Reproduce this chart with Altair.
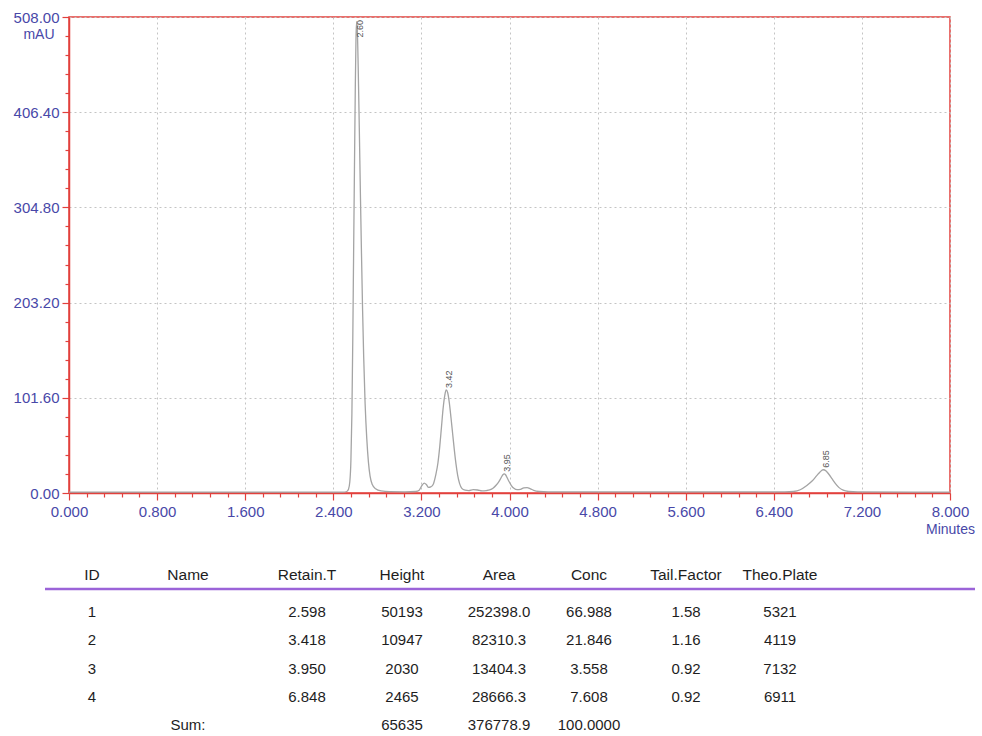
import altair as alt
import pandas as pd

# ---------------- chromatogram trace ----------------
time_min = [
    0.00, 2.49, 2.522, 2.538, 2.55, 2.56, 2.569, 2.577, 2.584, 2.592, 2.600, 2.606, 2.612,
    2.618, 2.626, 2.636, 2.646, 2.656, 2.666, 2.676, 2.689, 2.704, 2.719, 2.734, 2.754,
    2.784, 2.834, 2.91, 3.05, 3.15, 3.18, 3.20, 3.225, 3.245, 3.265, 3.285, 3.31, 3.33,
    3.35, 3.367, 3.382, 3.397, 3.412, 3.425, 3.439, 3.454, 3.469, 3.484, 3.499, 3.514,
    3.529, 3.547, 3.567, 3.597, 3.63, 3.67, 3.71, 3.75, 3.79, 3.82, 3.85, 3.88, 3.905,
    3.925, 3.94, 3.952, 3.964, 3.98, 3.997, 4.017, 4.04, 4.07, 4.10, 4.13, 4.16, 4.19,
    4.22, 4.27, 4.35, 6.50, 6.58, 6.64, 6.70, 6.75, 6.79, 6.82, 6.848, 6.875, 6.90,
    6.93, 6.96, 6.99, 7.03, 7.08, 7.16, 8.00,
]
absorbance_mau = [
    1.0, 1.0, 1.6, 4, 12, 35, 85, 165, 250, 345, 435, 485, 503,
    495, 455, 390, 320, 255, 195, 145, 95, 58, 33, 18, 9,
    4.5, 2.2, 1.4, 1.3, 1.6, 3, 7, 10.5, 9, 6, 6.5, 10, 19,
    32, 50, 70, 90, 104, 110, 107, 96, 80, 63, 46, 31,
    19, 10, 5, 3, 2.5, 3.5, 3.2, 2.2, 2.6, 3.3, 5, 8.5, 12.5,
    16.5, 19.5, 20.5, 19.5, 16, 12, 8, 5, 3.5, 4, 5.5, 5.8, 4.5,
    2.8, 1.6, 1.1, 1.1, 1.6, 3.5, 8, 13, 18.5, 22.5, 24.8, 23.5, 20,
    15, 10, 6, 3, 1.6, 1.1, 1.0,
]

# ---------------- peak annotations ----------------
peak_labels = ["2.60", "3.42", "3.95", "6.85"]
peak_apex_min = [2.612, 3.425, 3.952, 6.848]
peak_apex_mau = [503, 110, 20.5, 24.8]

# ---------------- result table ----------------
table_headers = ["ID", "Name", "Retain.T", "Height", "Area", "Conc", "Tail.Factor", "Theo.Plate"]
ids = ["1", "2", "3", "4"]
names = ["", "", "", ""]
retain_t = ["2.598", "3.418", "3.950", "6.848"]
heights = ["50193", "10947", "2030", "2465"]
areas = ["252398.0", "82310.3", "13404.3", "28666.3"]
concs = ["66.988", "21.846", "3.558", "7.608"]
tail_factors = ["1.58", "1.16", "0.92", "0.92"]
theo_plates = ["5321", "4119", "7132", "6911"]
sum_row = ["", "Sum:", "", "65635", "376778.9", "100.0000", "", ""]

# axis tick positions
x_tick_values = [round(0.16 * i, 2) for i in range(51)]
y_tick_values = [round(20.32 * i, 2) for i in range(26)]

RED = "#e2403c"
BLUE = "#4848a8"
TRACE = "#a4a4a4"
GRID = "#c4c4c4"
PURPLE = "#9b63d8"
FONT = "Liberation Sans"

trace_df = pd.DataFrame({"t": time_min, "v": absorbance_mau})
peaks_df = pd.DataFrame({"rt": peak_apex_min, "apex": peak_apex_mau, "lab": peak_labels})

cells = []
for c, h in enumerate(table_headers):
    cells.append({"c": c, "r": 0, "txt": h, "hdr": 1})
columns = [ids, names, retain_t, heights, areas, concs, tail_factors, theo_plates]
for c, col in enumerate(columns):
    for i, val in enumerate(col):
        if val:
            cells.append({"c": c, "r": i + 1, "txt": val, "hdr": 0})
for c, val in enumerate(sum_row):
    if val:
        cells.append({"c": c, "r": 5, "txt": val, "hdr": 0})
table_df = pd.DataFrame(cells)

MAJ_X = "abs(datum.value/0.8 - round(datum.value/0.8)) < 0.001"
MAJ_Y = "abs(datum.value/101.6 - round(datum.value/101.6)) < 0.001"

x_scale = alt.Scale(domain=[0, 8], nice=False, zero=False)
y_scale = alt.Scale(domain=[0, 508], nice=False, zero=False)

x_axis = alt.Axis(
    values=x_tick_values,
    labelExpr=f"{MAJ_X} ? format(datum.value, '.3f') : ''",
    labelOverlap=False, labelFlush=False,
    labelFont=FONT, labelFontSize=15, labelColor=BLUE, labelPadding=4,
    tickColor=RED, tickWidth=1.2,
    tickSize={"condition": {"test": MAJ_X, "value": 7}, "value": 4},
    domainColor=RED, domainWidth=1.5,
    grid=True, gridColor=GRID, gridDash=[2, 3], gridWidth=1,
    gridOpacity={"condition": {"test": MAJ_X, "value": 1}, "value": 0},
    title="Minutes", titleX=881, titleY=36, titleAlign="center", titleBaseline="middle",
    titleFont=FONT, titleFontSize=14, titleFontWeight="normal", titleColor=BLUE,
)
y_axis = alt.Axis(
    values=y_tick_values,
    labelExpr=f"{MAJ_Y} ? format(datum.value, '.2f') : ''",
    labelOverlap=False, labelFlush=False,
    labelFont=FONT, labelFontSize=15, labelColor=BLUE, labelPadding=3,
    tickColor=RED, tickWidth=1.2,
    tickSize={"condition": {"test": MAJ_Y, "value": 7}, "value": 4},
    domainColor=RED, domainWidth=1.5,
    grid=True, gridColor=GRID, gridDash=[2, 3], gridWidth=1,
    gridOpacity={"condition": {"test": MAJ_Y, "value": 1}, "value": 0},
    title="mAU", titleAngle=0, titleX=-15, titleY=17, titleAlign="right", titleBaseline="middle",
    titleFont=FONT, titleFontSize=14, titleFontWeight="normal", titleColor=BLUE,
)

trace = alt.Chart(trace_df).mark_line(
    color=TRACE, strokeWidth=1.3, interpolate="monotone"
).encode(
    x=alt.X("t:Q", scale=x_scale, axis=x_axis),
    y=alt.Y("v:Q", scale=y_scale, axis=y_axis),
)

peak_text = alt.Chart(peaks_df).transform_calculate(
    ly="min(datum.apex, 484)"
).mark_text(
    angle=270, align="left", baseline="middle", dx=2, dy=3,
    font=FONT, fontSize=9, color="#555555"
).encode(
    x=alt.X("rt:Q", scale=x_scale, axis=None),
    y=alt.Y("ly:Q", scale=y_scale, axis=None),
    text="lab:N",
)

table_x = alt.X("c:Q", axis=None,
                scale=alt.Scale(domain=[0, 1, 2, 3, 4, 5, 6, 7],
                                range=[23, 119, 238, 333, 430, 520, 617, 711],
                                nice=False, zero=False))
table_y = alt.Y("r:Q", axis=None,
                scale=alt.Scale(domain=[0, 1, 5], range=[558, 595, 708], nice=False, zero=False))

table_text = alt.Chart(table_df).mark_text(
    align="center", baseline="middle", font=FONT, color="#1e1e1e"
).encode(
    x=table_x,
    y=table_y,
    text="txt:N",
    size=alt.Size("hdr:N", scale=alt.Scale(domain=[0, 1], range=[15, 15.5]), legend=None),
)

separator = alt.Chart(alt.Data(values=[{}])).mark_rule(
    color=PURPLE, strokeWidth=2.5
).encode(
    x=alt.value(-24), x2=alt.value(906), y=alt.value(572)
)

chart = alt.layer(trace, peak_text, table_text, separator).resolve_scale(
    x="independent", y="independent"
).properties(
    width=881, height=476,
    padding={"left": 69, "top": 17, "right": 32, "bottom": 243},
    autosize=alt.AutoSizeParams(type="none"),
    background="white",
).configure_view(stroke=RED, strokeWidth=1.5)

chart.save("out.html", embed_options={"renderer": "svg", "actions": False})
